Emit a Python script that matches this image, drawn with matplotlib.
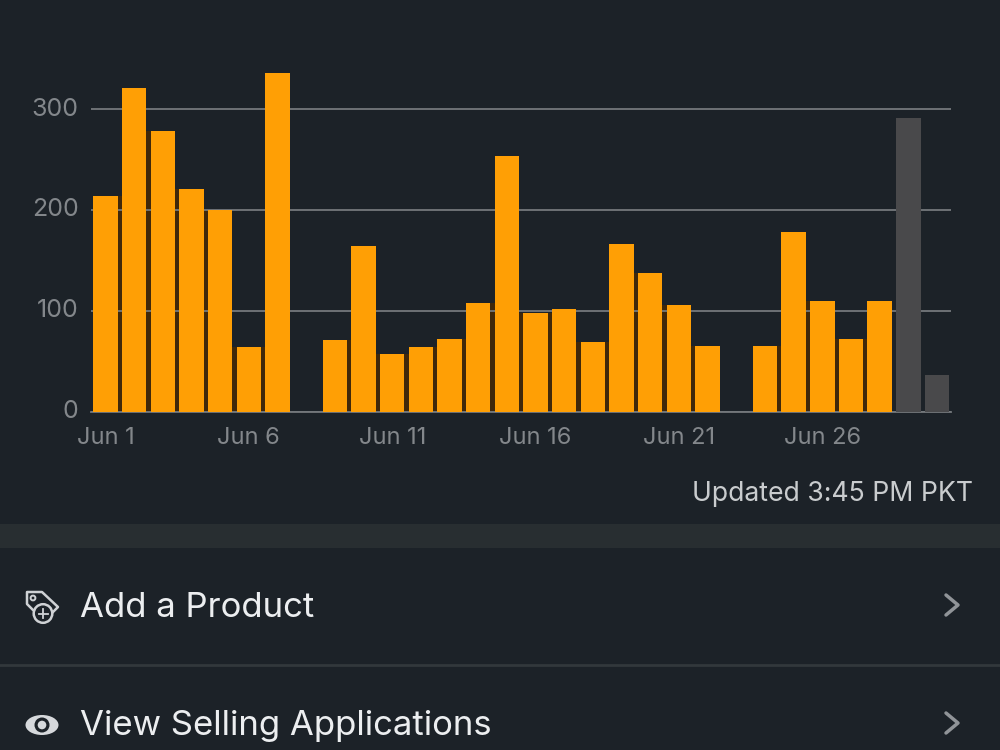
import matplotlib
matplotlib.use("Agg")
import matplotlib.pyplot as plt
import numpy as np
from matplotlib.patches import Circle, Ellipse, Polygon, Rectangle
from matplotlib.transforms import ScaledTranslation

plt.rcParams["font.family"] = ["Inter", "DejaVu Sans"]

# Daily order counts for June, the last two days are still pending
day_values = [214, 321, 279, 221, 200, 64, 336, 0, 71, 164, 57, 64, 72, 108, 254,
              98, 102, 69, 166, 138, 106, 65, 0, 65, 178, 110, 72, 110, 292, 36]
pending_from = 28
y_ticks = [0, 100, 200, 300]
x_tick_days = [0, 5, 10, 15, 20, 25]
x_tick_labels = ["Jun 1", "Jun 6", "Jun 11", "Jun 16", "Jun 21", "Jun 26"]
updated_text = "Updated 3:45 PM PKT"
menu_items = ["Add a Product", "View Selling Applications"]

BG = "#1c2228"
ORANGE = "#ff9f05"
GRAY = "#49494b"
GAP = "#40280a"
AXIS_TEXT = "#83878b"

W, H = 1000, 750
fig = plt.figure(figsize=(W / 100, H / 100), dpi=100, facecolor=BG)

# Chart area, placed by pixel so it sits where the app screen has it
left, right, top, bottom = 91, 951, 60, 411.5
ax = fig.add_axes([left / W, 1 - bottom / H, (right - left) / W, (bottom - top) / H])
ax.set_facecolor("none")
pitch = 28.67
x0 = 105.5
ax.set_xlim((left - x0) / pitch, (right - x0) / pitch)
ax.set_ylim(0, (bottom - top) / 1.0067)

xs = np.arange(len(day_values))
values = np.array(day_values)
colors = [ORANGE if i < pending_from else GRAY for i in xs]

# dark seam between neighbouring orange bars
for i in range(pending_from - 1):
    seam = min(values[i], values[i + 1])
    if seam > 0:
        ax.bar(i + 0.5, seam, width=0.2, color=GAP, linewidth=0, zorder=1)

ax.bar(xs, values, width=0.855, color=colors, linewidth=0, zorder=3)

ax.set_yticks(y_ticks)
ax.set_xticks(x_tick_days)
ax.set_xticklabels(x_tick_labels)
ax.grid(axis="y", color="#74787c", linewidth=1.3)
ax.set_axisbelow(False)
for line in ax.get_ygridlines():
    line.set_zorder(2)
ax.tick_params(length=0, colors=AXIS_TEXT, labelsize=17)
ax.tick_params(axis="y", pad=9, labelsize=18)
ax.tick_params(axis="x", pad=11.5)
for label in ax.get_yticklabels():
    label.set_transform(label.get_transform() + ScaledTranslation(0, 2 / 72, fig.dpi_scale_trans))
for s in ["top", "right", "left"]:
    ax.spines[s].set_visible(False)
ax.spines["bottom"].set_color("#74787c")
ax.spines["bottom"].set_linewidth(1.3)
ax.spines["bottom"].set_zorder(2)

# Screen elements around the chart, in pixel coordinates
ui = fig.add_axes([0, 0, 1, 1], zorder=-1)
ui.set_xlim(0, W)
ui.set_ylim(H, 0)
ui.axis("off")
over = fig.add_axes([0, 0, 1, 1], zorder=5)
over.set_xlim(0, W)
over.set_ylim(H, 0)
over.axis("off")
over.patch.set_alpha(0)

ui.add_patch(Rectangle((0, 523.5), W, 24.5, color="#282e31", linewidth=0))
ui.plot([0, W], [664.5, 664.5], color="#32383c", lw=2)

over.text(973, 494, updated_text, ha="right", va="center", color="#c9ccce", fontsize=19.2)
over.text(80, 608, menu_items[0], ha="left", va="center", color="#eceef0", fontsize=25)
over.text(80, 726, menu_items[1], ha="left", va="center", color="#eceef0", fontsize=25)

# chevrons
for cy in [605, 723]:
    over.plot([946, 958, 946], [cy - 10, cy, cy + 10], color="#909498", lw=2.5,
              solid_capstyle="round", solid_joinstyle="round")

# tag icon with plus badge
icon = "#cfd2d5"
over.add_patch(Polygon([[27, 592], [42, 592], [58, 607], [52, 613], [33, 610], [27, 604]],
                       closed=True, fill=False, ec=icon, lw=1.8, joinstyle="round"))
over.add_patch(Circle((33, 598), 2.4, fill=False, ec=icon, lw=1.4))
over.add_patch(Circle((43, 613.5), 9.3, fc=BG, ec=icon, lw=1.8))
over.plot([38.5, 47.5], [613.5, 613.5], color=icon, lw=1.3)
over.plot([43, 43], [609, 618], color=icon, lw=1.3)

# eye icon
over.add_patch(Ellipse((42, 725), 33, 20, color="#d6d9dc", linewidth=0))
over.add_patch(Circle((42, 725), 7.5, color=BG, linewidth=0))
over.add_patch(Circle((42, 725), 4.3, color="#d6d9dc", linewidth=0))

fig.savefig("out.png", dpi=100, facecolor=BG)
